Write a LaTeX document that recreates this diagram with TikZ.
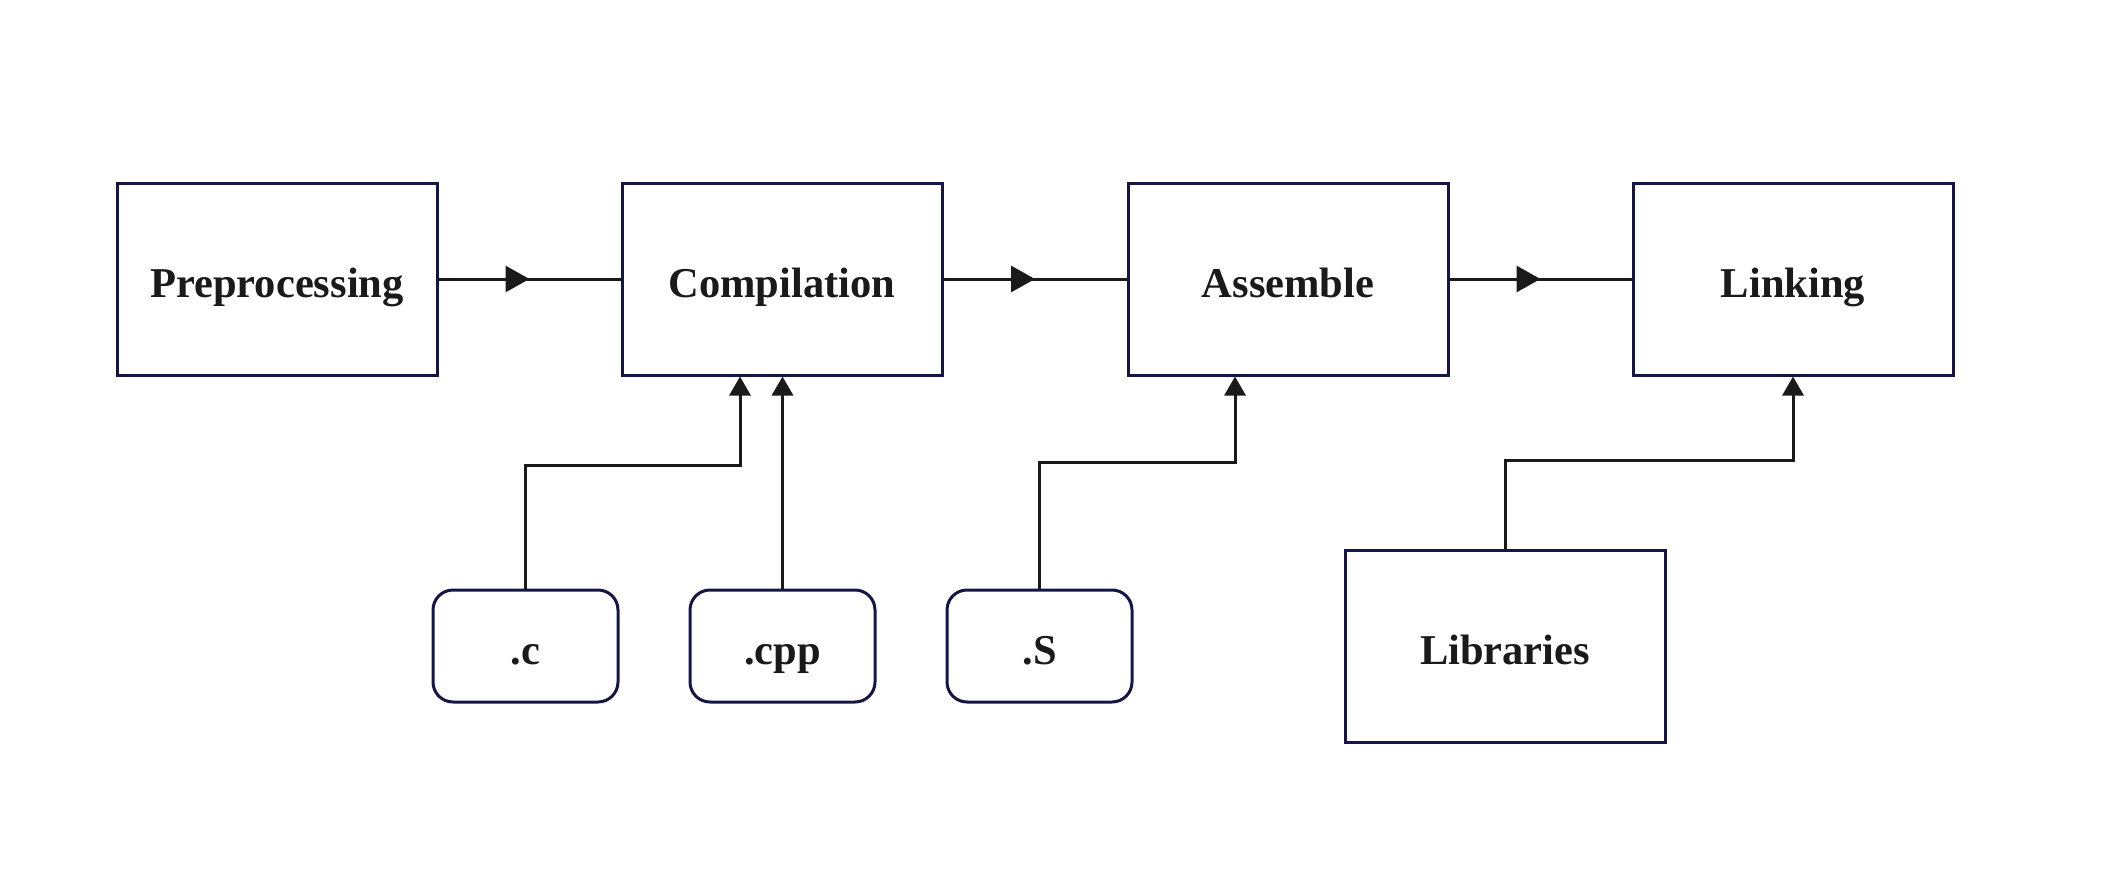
\documentclass[tikz,border=0pt]{standalone}
\usepackage{fontspec}
\setmainfont{Liberation Serif}
\usetikzlibrary{arrows.meta,decorations.markings}
\definecolor{boxline}{HTML}{161646}
\definecolor{ink}{HTML}{1A1A1A}
\tikzset{
  stage/.style={draw=boxline, line width=3pt, minimum width=320pt, minimum height=192pt, inner sep=0pt, text=ink, text height=46pt, text depth=10pt, font=\fontsize{42.5}{50}\selectfont\bfseries},
  src/.style={draw=boxline, line width=3pt, rounded corners=20pt, minimum width=185pt, minimum height=112pt, inner sep=0pt, text=ink, text height=46pt, text depth=10pt, font=\fontsize{42.5}{50}\selectfont\bfseries},
  harr/.style={draw=ink, line width=3pt, postaction={decorate}, decoration={markings, mark=at position 0.5 with {\arrow[ink]{Triangle[length=24pt,width=26pt]}}}},
  varr/.style={draw=ink, line width=3pt, -{Triangle[length=19pt,width=21pt]}}
}
\begin{document}
\begin{tikzpicture}[x=1pt,y=-1pt]
\useasboundingbox (0,0) rectangle (2102,886);
\node[stage] (pre) at (277,279) {Preprocessing};
\node[stage] (comp) at (782,279) {Compilation};
\node[stage] (asm) at (1288,279) {Assemble};
\node[stage] (link) at (1793,279) {Linking};
\node[src] (c) at (525.5,646) {.c};
\node[src] (cpp) at (782.5,646) {.cpp};
\node[src] (S) at (1039.5,646) {.S};
\node[stage] (lib) at (1505,646) {Libraries};
\draw[harr] (pre.east) -- (comp.west);
\draw[harr] (comp.east) -- (asm.west);
\draw[harr] (asm.east) -- (link.west);
\draw[varr] (c.north) -- (c.north |- 0,465) -| ([xshift=-42pt]comp.south);
\draw[varr] (cpp.north) -- (cpp.north |- comp.south);
\draw[varr] (S.north) -- (S.north |- 0,462.5) -| ([xshift=-53pt]asm.south);
\draw[varr] (lib.north) -- (lib.north |- 0,460) -| (link.south);
\end{tikzpicture}
\end{document}
